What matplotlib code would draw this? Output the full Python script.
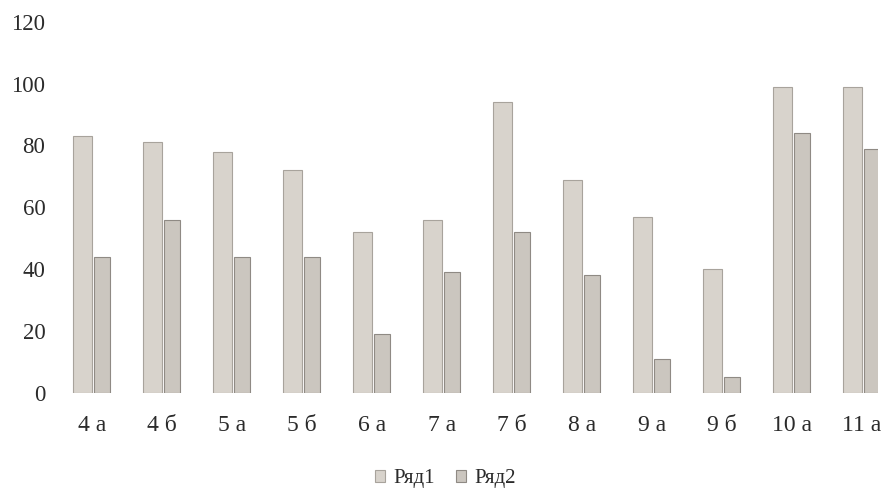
import matplotlib.pyplot as plt
import numpy as np

plt.rcParams["font.family"] = ["Liberation Serif", "DejaVu Serif"]

classes = ["4 а", "4 б", "5 а", "5 б", "6 а", "7 а", "7 б", "8 а", "9 а", "9 б", "10 а", "11 а"]
row1 = [83, 81, 78, 72, 52, 56, 94, 69, 57, 40, 99, 99]
row2 = [44, 56, 44, 44, 19, 39, 52, 38, 11, 5, 84, 79]
series_names = ["Ряд1", "Ряд2"]

fig = plt.figure(figsize=(8.82, 4.96), dpi=100)
ax = fig.add_axes([0.075, 0.208, 0.92, 0.748])

x = np.arange(len(classes))
w = 0.27
ax.bar(x - w / 2 + 0.005, row1, width=w, color="#d8d3cc", edgecolor="#a8a39c",
       linewidth=0.8, label=series_names[0])
ax.bar(x + w / 2 + 0.01, row2, width=w * 0.85, color="#cbc6bf", edgecolor="#8f8a84",
       linewidth=0.8, label=series_names[1])

ax.set_xlim(-0.37, 11.23)
ax.set_ylim(0, 120)
ax.set_yticks(range(0, 121, 20))
ax.set_xticks(x)
ax.set_xticklabels(classes)
ax.tick_params(axis="both", length=0, labelsize=17, colors="#2b2b2b")
ax.tick_params(axis="y", labelsize=16.5, pad=15)
ax.tick_params(axis="x", pad=16)
for s in ax.spines.values():
    s.set_visible(False)

fig.legend(loc="center", bbox_to_anchor=(0.505, 0.035), ncol=2, frameon=False,
           fontsize=15, handlelength=0.5, handleheight=0.5, handletextpad=0.4,
           columnspacing=1.0, labelcolor="#2b2b2b")

plt.savefig("out.png", dpi=100)
